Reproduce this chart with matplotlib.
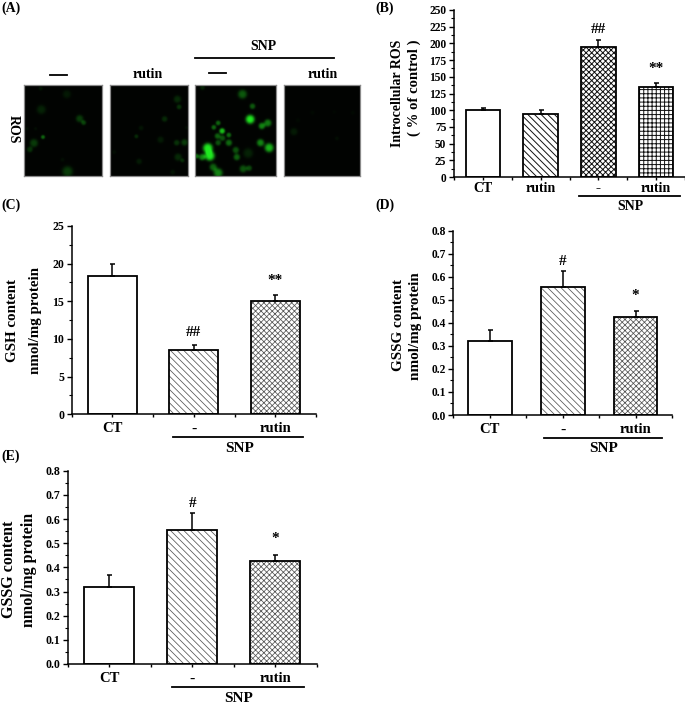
import numpy as np
import matplotlib
matplotlib.use("Agg")
import matplotlib.pyplot as plt
from matplotlib.ticker import MultipleLocator

plt.rcParams['font.family'] = ['Liberation Serif', 'DejaVu Serif']
plt.rcParams['font.weight'] = 'bold'

W, H = 685, 706

# panel B
ros_labels = ['CT', 'rutin', '-', 'rutin']
ros_values = [100, 95, 195, 135]
ros_errors = [3, 5, 10, 5]
ros_marks = ['', '', '##', '**']
ros_mark_y = [0, 0, 221, 162]

# panel C
gsh_labels = ['CT', '-', 'rutin']
gsh_values = [18.3, 8.5, 15.0]
gsh_errors = [1.6, 0.7, 0.8]
gsh_marks = ['', '##', '**']
gsh_mark_y = [0, 10.8, 17.8]

# panels D and E
gssg_labels = ['CT', '-', 'rutin']
gssg_values = [0.32, 0.555, 0.425]
gssg_errors = [0.05, 0.07, 0.025]
gssg_marks = ['', '#', '*']
gssg_mark_y = [0, 0.665, 0.52]

# fluorescence cells: x, y, radius, brightness
cells_ct = [(120, 265, 5, .12), (198, 282, 10, .15), (122, 328, 11, .2), (236, 355, 9, .32),
            (248, 367, 6, .35), (127, 410, 5, .5), (100, 428, 10, .32), (88, 447, 7, .28),
            (200, 513, 13, .32), (105, 385, 4, .08), (185, 478, 5, .08), (80, 385, 4, .08)]
cells_rutin = [(530, 297, 9, .24), (535, 320, 6, .28), (492, 356, 7, .24), (422, 383, 6, .12),
               (408, 408, 5, .24), (480, 418, 8, .16), (528, 427, 7, .28), (551, 426, 8, .32),
               (532, 470, 9, .24), (545, 480, 5, .24), (416, 483, 7, .16), (516, 515, 6, .12),
               (342, 455, 5, .08), (557, 382, 4, .08)]
cells_snp = [(608, 262, 6, .2), (728, 282, 11, .45), (758, 318, 7, .45), (751, 357, 11, 1),
             (786, 377, 8, .62), (804, 368, 9, .58), (655, 368, 6, .5), (642, 381, 6, .5),
             (667, 392, 7, .85), (653, 407, 7, .48), (687, 404, 6, .52), (668, 413, 7, .42),
             (655, 427, 7, .42), (687, 427, 8, .52), (782, 427, 9, .62), (808, 442, 11, .8),
             (624, 443, 12, 1), (630, 466, 12, 1), (607, 470, 8, .62), (590, 467, 6, .52),
             (708, 449, 8, .42), (711, 470, 8, .48), (745, 458, 12, .2), (640, 500, 9, .48),
             (655, 517, 11, .62), (730, 505, 9, .42), (748, 503, 7, .38)]
cells_snp_rutin = [(880, 394, 9, .16), (892, 360, 5, .05), (935, 337, 5, .05),
                   (1008, 414, 5, .08), (1055, 337, 5, .05), (1000, 335, 4, .04)]

fig = plt.figure(figsize=(W / 100, H / 100), dpi=100, facecolor='white')


def add_axes_px(left, top, right, bottom):
    return fig.add_axes([left / W, 1 - bottom / H, (right - left) / W, (bottom - top) / H])


def text_px(x, y, s, size=10, **kw):
    fig.text(x / W, 1 - y / H, s, fontsize=size, ha='center', va='center', **kw)


def line_px(x0, x1, y, lw=1.3):
    fig.add_artist(plt.Line2D([x0 / W, x1 / W], [1 - y / H, 1 - y / H], color='black', lw=lw))


def cell_image(ax, box, cells):
    x0, y0, x1, y1 = box
    xx, yy = np.meshgrid(np.arange(x0, x1), np.arange(y0, y1))
    v = np.zeros(xx.shape)
    for cx, cy, r, b in cells:
        # radii were read too tight, and a flat top makes a disc rather than a point
        r = r * 1.3
        v += b * np.exp(-(((xx - cx) ** 2 + (yy - cy) ** 2) / r ** 2) ** 1.6)
    v = np.clip(v, 0, 1) ** 1.25
    rgb = np.dstack([0.12 * v + 0.005, 0.9 * v + 0.015, 0.12 * v + 0.005])
    ax.imshow(rgb, aspect='auto')
    ax.set_xticks([])
    ax.set_yticks([])
    for s in ax.spines.values():
        s.set_color('#8a8a8a')
        s.set_linewidth(0.9)


def bar_panel(box, labels, values, errors, hatches, marks, mark_y, width, ymax, major, minor,
              fmt, tick_size, label_size, mark_size, label_pad=3, hatch_color='#555555', hatch_lw=0.55):
    ax = add_axes_px(*box)
    xs = np.arange(len(values))
    # hatch first in a softer grey, outline on top in black
    with plt.rc_context({'hatch.linewidth': hatch_lw}):
        ax.bar(xs, values, width=width, color='white', edgecolor=hatch_color, linewidth=0, hatch=hatches)
    ax.bar(xs, values, width=width, fill=False, edgecolor='black', linewidth=1.3)
    ax.errorbar(xs, values, yerr=[[0] * len(values), errors], fmt='none', ecolor='black',
                elinewidth=1.1, capsize=1.8, capthick=1.1)
    for x, m, y in zip(xs, marks, mark_y):
        if m:
            ax.text(x, y, m, ha='center', va='center', fontsize=mark_size)
    ax.set_xlim(-0.5, len(values) - 0.5)
    ax.set_ylim(0, ymax)
    ax.spines['top'].set_visible(False)
    ax.spines['right'].set_visible(False)
    ax.spines['left'].set_linewidth(1.1)
    ax.spines['bottom'].set_linewidth(1.1)
    ax.set_xticks(xs)
    ax.set_xticklabels(labels, fontsize=label_size)
    ax.set_xticks(np.arange(len(values) + 1) - 0.5, minor=True)
    ax.yaxis.set_major_locator(MultipleLocator(major))
    ax.yaxis.set_minor_locator(MultipleLocator(minor))
    ax.yaxis.set_major_formatter(fmt)
    ax.tick_params(axis='y', which='major', length=3.5, width=1, labelsize=tick_size, pad=2)
    ax.tick_params(axis='y', which='minor', length=2, width=0.8)
    ax.tick_params(axis='x', which='both', length=2.5, width=1, labelsize=label_size, pad=label_pad)
    for t in ax.get_xticklabels():
        if t.get_text() == '-':
            t.set_fontsize(label_size + 1)
    return ax


# panel A
cell_boxes = [(71, 255, 306, 527), (330, 255, 565, 527), (586, 255, 829, 527), (851, 255, 1080, 527)]
for box, cells in zip(cell_boxes, [cells_ct, cells_rutin, cells_snp, cells_snp_rutin]):
    ax = add_axes_px(box[0] / 3, box[1] / 3, box[2] / 3, box[3] / 3)
    cell_image(ax, box, cells)

text_px(11, 8, '(A)')
text_px(263, 47, 'SNP')
line_px(195, 334, 58)
line_px(50, 67, 75)
line_px(209, 226, 73)
text_px(148, 74, 'rutin')
text_px(323, 75, 'rutin')
text_px(13, 129, 'ROS', rotation=-90)

# panel B
bar_panel((454, 10, 685, 177), ros_labels, ros_values, ros_errors, ['', '\\\\\\\\\\', 'xxxxxx', '++++'],
          ros_marks, ros_mark_y, 0.6, 250, 25, 12.5, '{x:.0f}', 8.3, 10, 11, label_pad=1,
          hatch_color='#111111', hatch_lw=0.7)
text_px(385, 8, '(B)')
text_px(397, 93, 'Introcellular ROS', size=10, rotation=90)
text_px(414, 88, '( % of control )', size=10.6, rotation=90)
line_px(579, 680, 196)
text_px(630, 207, 'SNP')

# panel C
bar_panel((71.7, 226, 316, 414.3), gsh_labels, gsh_values, gsh_errors, ['', '\\\\\\\\\\', 'xxxxxx'],
          gsh_marks, gsh_mark_y, 0.6, 25, 5, 2.5, '{x:.0f}', 8.6, 10.5, 11)
text_px(11, 205, '(C)')
text_px(13, 320, 'GSH content', size=10.8, rotation=90)
text_px(35, 320, 'nmol/mg protein', size=10.8, rotation=90)
line_px(173, 303, 437)
text_px(240, 448, 'SNP', size=11)

# panel D
bar_panel((453.3, 230.7, 672, 415), gssg_labels, gssg_values, gssg_errors, ['', '\\\\\\\\\\', 'xxxxxx'],
          gssg_marks, gssg_mark_y, 0.6, 0.8, 0.1, 0.05, '{x:.1f}', 8.3, 10.5, 11)
text_px(385, 205, '(D)')
text_px(398, 325, 'GSSG content', size=10.9, rotation=90)
text_px(416, 326, 'nmol/mg protein', size=10.9, rotation=90)
line_px(544, 662, 438)
text_px(604, 449, 'SNP', size=11)

# panel E
bar_panel((67.7, 470.7, 316.7, 664), gssg_labels, gssg_values, gssg_errors, ['', '\\\\\\\\\\', 'xxxxxx'],
          gssg_marks, gssg_mark_y, 0.6, 0.8, 0.1, 0.05, '{x:.1f}', 8.6, 10.5, 11)
text_px(11, 456, '(E)')
text_px(9, 569, 'GSSG content', size=11.5, rotation=90)
text_px(29, 570, 'nmol/mg protein', size=11.5, rotation=90)
line_px(172, 304, 687)
text_px(239, 698, 'SNP', size=11)

fig.savefig('out.png', dpi=100)
